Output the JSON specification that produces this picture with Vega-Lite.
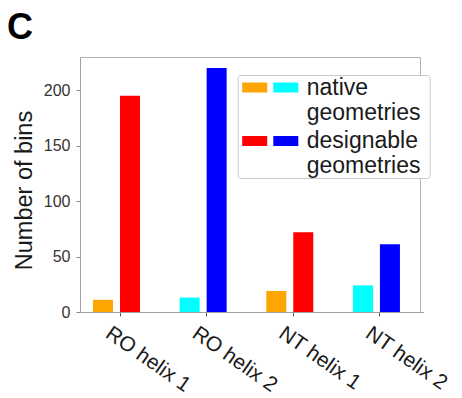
{
  "$schema": "https://vega.github.io/schema/vega-lite/v6.json",
  "autosize": {"type": "none"},
  "width": 340,
  "height": 255,
  "padding": {"left": 80, "top": 57, "right": 42, "bottom": 86},
  "background": "white",
  "title": {
    "text": "C",
    "anchor": "start",
    "frame": "group",
    "font": "Liberation Sans",
    "fontSize": 36,
    "fontWeight": "bold",
    "color": "black",
    "baseline": "alphabetic",
    "offset": 17,
    "dx": -73,
    "dy": 35
  },
  "data": {
    "values": [
      {"group": "RO helix 1", "helix": 1, "type": "native", "bins": 11},
      {"group": "RO helix 1", "helix": 1, "type": "designable", "bins": 195},
      {"group": "RO helix 2", "helix": 2, "type": "native", "bins": 13},
      {"group": "RO helix 2", "helix": 2, "type": "designable", "bins": 220},
      {"group": "NT helix 1", "helix": 1, "type": "native", "bins": 19},
      {"group": "NT helix 1", "helix": 1, "type": "designable", "bins": 72},
      {"group": "NT helix 2", "helix": 2, "type": "native", "bins": 24},
      {"group": "NT helix 2", "helix": 2, "type": "designable", "bins": 61}
    ]
  },
  "encoding": {
    "x": {
      "field": "group",
      "type": "nominal",
      "sort": ["RO helix 1", "RO helix 2", "NT helix 1", "NT helix 2"],
      "scale": {"range": [-3.3, 343.3], "paddingInner": 0, "paddingOuter": 0},
      "axis": {
        "title": null,
        "labelAngle": 35,
        "labelAlign": "left",
        "labelBaseline": "top",
        "labelFont": "Liberation Sans",
        "labelFontSize": 21,
        "labelColor": "#1a1a1a",
        "labelOffset": -6,
        "labelPadding": 6,
        "labelLimit": 0,
        "tickSize": 4,
        "tickColor": "#4a5a7a",
        "domainColor": "#a0a0a0",
        "grid": false
      }
    },
    "xOffset": {
      "field": "type",
      "type": "nominal",
      "sort": ["native", "designable"],
      "scale": {"range": [16.3, 63.3], "paddingInner": 0.259, "paddingOuter": 0}
    },
    "y": {
      "field": "bins",
      "type": "quantitative",
      "scale": {"domain": [0, 230], "nice": false},
      "axis": {
        "title": "Number of bins",
        "titleFont": "Liberation Sans",
        "titleFontSize": 23.5,
        "titleFontWeight": "normal",
        "titleColor": "#1a1a1a",
        "titlePadding": 7,
        "titleY": 133,
        "values": [0, 50, 100, 150, 200],
        "labelFont": "Liberation Sans",
        "labelFontSize": 16,
        "labelColor": "#333333",
        "labelPadding": 6,
        "tickSize": 4,
        "tickColor": "#8a8a8a",
        "domainColor": "#a0a0a0",
        "grid": false
      }
    }
  },
  "layer": [
    {
      "transform": [{"filter": "datum.helix == 1"}],
      "mark": {"type": "bar"},
      "encoding": {
        "color": {
          "field": "type",
          "type": "nominal",
          "scale": {"domain": ["native", "designable"], "range": ["#FFA500", "#FF0000"]},
          "legend": {
            "orient": "none",
            "legendX": 157.7,
            "legendY": 18,
            "title": null,
            "padding": 0,
            "strokeColor": "#c8c8c8",
            "fillColor": "white",
            "cornerRadius": 3,
            "symbolType": "M-1,-0.4H1V0.4H-1Z M13.96,0.4L13.96,0.4",
            "symbolSize": 625,
            "symbolStrokeWidth": 0,
            "symbolOpacity": 1,
            "symbolOffset": 4.5,
            "labelFont": "Liberation Sans",
            "labelFontSize": 23,
            "labelColor": "#1a1a1a",
            "labelOffset": 39.5,
            "labelBaseline": "middle",
            "labelLimit": 0,
            "labelExpr": "datum.value == 'native' ? ['native', 'geometries'] : ['designable', 'geometries']",
            "rowPadding": 3.5,
            "encode": {"labels": {"update": {"lineHeight": {"value": 25}}}}
          }
        }
      }
    },
    {
      "transform": [{"filter": "datum.helix == 2"}],
      "mark": {"type": "bar"},
      "encoding": {
        "color": {
          "field": "type",
          "type": "nominal",
          "scale": {"domain": ["native", "designable"], "range": ["#00FFFF", "#0000FF"]},
          "legend": {
            "orient": "none",
            "legendX": 193.3,
            "legendY": 18,
            "title": null,
            "padding": 0,
            "symbolType": "M-1,-0.4H1V0.4H-1Z",
            "symbolSize": 625,
            "symbolStrokeWidth": 0,
            "symbolOpacity": 1,
            "labelFont": "Liberation Sans",
            "labelFontSize": 23,
            "labelOpacity": 0,
            "labelOffset": 39.5,
            "labelBaseline": "middle",
            "labelLimit": 0,
            "labelExpr": "[' ', ' ']",
            "rowPadding": 3.5,
            "encode": {"labels": {"update": {"lineHeight": {"value": 25}}}}
          }
        }
      }
    }
  ],
  "resolve": {"scale": {"color": "independent"}},
  "config": {
    "view": {"stroke": "#b0b0b0", "strokeWidth": 1},
    "axis": {"domainWidth": 1, "tickWidth": 1}
  }
}
